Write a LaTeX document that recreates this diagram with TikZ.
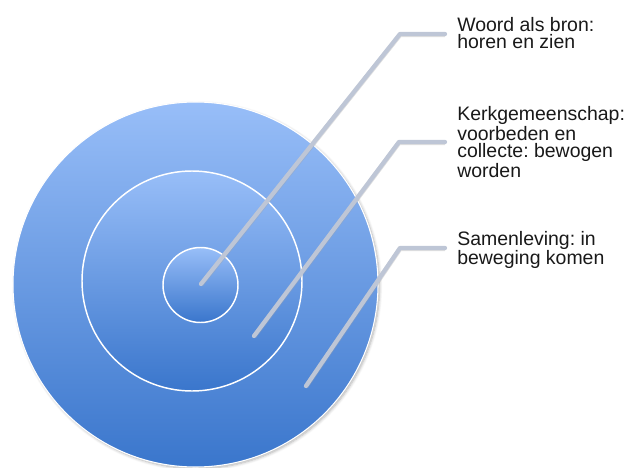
\documentclass[tikz,border=0pt]{standalone}
\usepackage{fontspec}
\setmainfont{Liberation Sans}
\usetikzlibrary{shadows.blur}
\definecolor{ringtop}{RGB}{152,190,248}
\definecolor{ringbot}{RGB}{58,118,204}
\definecolor{connc}{RGB}{190,198,214}
\definecolor{txtc}{RGB}{25,25,25}
\tikzset{
  ring/.style={circle, inner sep=0pt, draw=white, line width=1.1pt,
    top color=ringtop, bottom color=ringbot},
  conn/.style={draw=connc, line width=3.2pt, line cap=round, line join=round,
    preaction={draw=black!35, opacity=0.35, line width=3.6pt, transform canvas={yshift=-0.6pt}}},
  lab/.style={anchor=west, inner sep=0pt, align=left, text=txtc,
    font=\frenchspacing\fontsize{14.6pt}{13.2pt}\selectfont}
}
\begin{document}
\begin{tikzpicture}[x=0.75pt, y=-0.75pt]
\useasboundingbox (0,0) rectangle (626,468);
\node[ring, minimum size=273.75pt, line width=0.8pt,
  blur shadow={shadow xshift=1.2pt, shadow yshift=-1.2pt, shadow blur steps=6, shadow opacity=30}]
  (outer) at (195.5,284.5) {};
\node[ring, minimum size=165pt] (middle) at (192,281) {};
\node[ring, minimum size=56.25pt] (inner) at (200.5,285) {};

\node[lab] (l1) at (457,33) {Woord als bron:\\horen en zien};
\node[lab] (l2) at (457,142) {Kerkgemeenschap:\\voorbeden en\\collecte: bewogen\\worden};
\node[lab] (l3) at (457,250) {Samenleving: in\\beweging komen};

\coordinate (e1) at (201,284);
\coordinate (k1) at (400,34);
\coordinate (e2) at (254,336);
\coordinate (k2) at (399,142);
\coordinate (e3) at (306,386);
\coordinate (k3) at (400,248);

\draw[conn, shorten >=9pt] (e1) -- (k1) -- (k1 -| l1.west);
\draw[conn, shorten >=9pt] (e2) -- (k2) -- (k2 -| l2.west);
\draw[conn, shorten >=9pt] (e3) -- (k3) -- (k3 -| l3.west);
\end{tikzpicture}
\end{document}
